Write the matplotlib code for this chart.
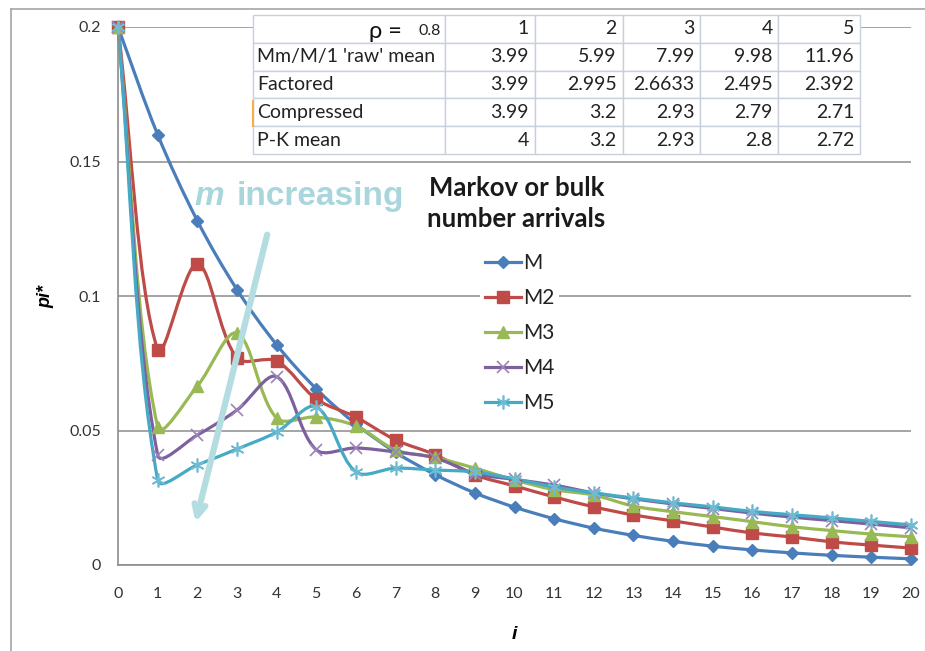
import numpy as np
import matplotlib
matplotlib.use('Agg')
import matplotlib.pyplot as plt
from matplotlib.path import Path
from matplotlib.patches import PathPatch
from matplotlib.lines import Line2D

plt.rcParams['font.family'] = ['Lato', 'DejaVu Sans']

# --- data
i_vals = list(range(21))
M = [0.2, 0.16, 0.128, 0.1024, 0.0819, 0.0655, 0.0524, 0.0419, 0.0336, 0.0268, 0.0215,
     0.0172, 0.0137, 0.011, 0.0088, 0.007, 0.0056, 0.0045, 0.0036, 0.0029, 0.0023]
M2 = [0.2, 0.080, 0.112, 0.077, 0.0758, 0.0617, 0.055, 0.0465, 0.041, 0.0335, 0.0294,
      0.0253, 0.0216, 0.0186, 0.0164, 0.0141, 0.0119, 0.0104, 0.0086, 0.0074, 0.0063]
M3 = [0.2, 0.0513, 0.0665, 0.0862, 0.0546, 0.055, 0.0517, 0.0428, 0.040, 0.036, 0.0316,
      0.028, 0.026, 0.0219, 0.0198, 0.018, 0.0161, 0.0142, 0.0128, 0.0115, 0.0105]
M4 = [0.2, 0.0409, 0.0483, 0.0576, 0.070, 0.0428, 0.0435, 0.042, 0.0398, 0.034, 0.0318,
      0.0297, 0.0268, 0.0246, 0.0227, 0.021, 0.0193, 0.0178, 0.0165, 0.0152, 0.0138]
M5 = [0.2, 0.0316, 0.0372, 0.0431, 0.0494, 0.0588, 0.0346, 0.036, 0.0353, 0.0346, 0.032,
      0.029, 0.0268, 0.0249, 0.0231, 0.0216, 0.0199, 0.0187, 0.0175, 0.0162, 0.0149]

series_names = ['M', 'M2', 'M3', 'M4', 'M5']
series_vals = [M, M2, M3, M4, M5]

# table contents
table_header = ['1', '2', '3', '4', '5']
table_rows = ["Mm/M/1 'raw' mean", 'Factored', 'Compressed', 'P-K mean']
raw_mean = ['3.99', '5.99', '7.99', '9.98', '11.96']
factored = ['3.99', '2.995', '2.6633', '2.495', '2.392']
compressed = ['3.99', '3.2', '2.93', '2.79', '2.71']
pk_mean = ['4', '3.2', '2.93', '2.8', '2.72']
rho = '0.8'

# --- styles
line_colors = ['#4A7EBB', '#BE4B48', '#98B954', '#7D60A0', '#46AAC5']
marker_colors = ['#4A7EBB', '#BE4B48', '#98B954', '#9B85B8', '#6FBCD2']
markers = ['D', 's', '^', 'x', (6, 2, 0)]
msizes = [6, 8, 8, 9, 10]


def smooth_path(ax, x, y):
    # Excel-like smoothed line: Bezier through the points, tangents weighted
    # by segment length in screen space (limits overshoot after long drops)
    to_px = ax.transData
    p = to_px.transform(np.column_stack([x, y]))
    n = len(p)
    d = np.hypot(*np.diff(p, axis=0).T)
    verts = [p[0]]
    codes = [Path.MOVETO]
    for k in range(n - 1):
        if k > 0:
            c1 = p[k] + (p[k + 1] - p[k - 1]) * d[k] / (d[k - 1] + d[k]) / 3
        else:
            c1 = p[k] + (p[k + 1] - p[k]) / 3
        if k + 2 < n:
            c2 = p[k + 1] - (p[k + 2] - p[k]) * d[k] / (d[k] + d[k + 1]) / 3
        else:
            c2 = p[k + 1] - (p[k + 1] - p[k]) / 3
        verts += [c1, c2, p[k + 1]]
        codes += [Path.CURVE4] * 3
    verts = to_px.inverted().transform(np.array(verts))
    return Path(verts, codes)


W, H = 925, 651
fig = plt.figure(figsize=(W / 100, H / 100), dpi=100)
ax = fig.add_axes([118 / W, 86 / H, 793 / W, 538 / H])

ax.set_xlim(0, 20)
ax.set_ylim(0, 0.2)
ax.set_xticks(range(0, 21))
ax.set_yticks([0, 0.05, 0.1, 0.15, 0.2])
ax.set_yticklabels(['0', '0.05', '0.1', '0.15', '0.2'])
ax.tick_params(length=0, labelsize=11.5, labelcolor='#333333')
ax.tick_params(axis='x', pad=16)
ax.tick_params(axis='y', pad=12)
for s in ['top', 'right']:
    ax.spines[s].set_visible(False)
for s in ['left', 'bottom']:
    ax.spines[s].set_color('#8C8C8C')
    ax.spines[s].set_linewidth(1.2)
ax.grid(axis='y', color='#8C8C8C', lw=1.1, zorder=0)
ax.set_axisbelow(True)

x = np.array(i_vals, dtype=float)
handles = []
for name, vals, lc, mc, mk, ms in zip(series_names, series_vals, line_colors,
                                      marker_colors, markers, msizes):
    y = np.array(vals)
    ax.add_patch(PathPatch(smooth_path(ax, x, y), facecolor='none', edgecolor=lc,
                           lw=2.3, zorder=2, clip_on=False))
    thin = name in ('M4', 'M5')
    ax.plot(x, y, linestyle='none', marker=mk, markersize=ms,
            color=mc, mec=mc, mew=1.2 if thin else 1, zorder=3, clip_on=False)
    handles.append(Line2D([], [], color=lc, lw=2.3, marker=mk, markersize=ms,
                          mfc=mc, mec=mc, mew=1.2 if thin else 1, label=name))

ax.set_ylabel('pi*', fontsize=13, fontweight='bold', style='italic',
              family='Liberation Sans', labelpad=11)
ax.set_xlabel('i', fontsize=14, fontweight='bold', style='italic',
              family='Liberation Sans', labelpad=18)

# annotations
ax.text(1.94, 0.137, 'm', fontsize=24, fontweight='bold', style='italic',
        color='#A9D6DC', family='Liberation Sans', va='center', ha='left')
ax.text(2.98, 0.137, 'increasing', fontsize=24, fontweight='bold',
        color='#A9D6DC', family='Liberation Sans', va='center', ha='left')
ax.annotate('', xy=(1.94, 0.0149), xytext=(3.78, 0.1238),
            arrowprops=dict(arrowstyle='->,head_length=0.8,head_width=0.4',
                            color='#B4DDE1', lw=4.5), zorder=4)
ax.text(10.05, 0.1345, 'Markov or bulk\nnumber arrivals', fontsize=18.5,
        fontweight='bold', color='#1A1A1A', ha='center', va='center',
        linespacing=1.35)

leg = ax.legend(handles=handles, loc='upper left',
                bbox_to_anchor=(480 / W, 1 - 248 / H), bbox_transform=fig.transFigure,
                frameon=True, fontsize=15, handlelength=1.7, handletextpad=0.1,
                labelspacing=0.72, borderpad=0.25, borderaxespad=0, fancybox=False)
leg.get_frame().set_facecolor('white')
leg.get_frame().set_edgecolor('none')
leg.get_frame().set_alpha(1)
leg.set_zorder(5)
for t in leg.get_texts():
    t.set_color('#222222')

# table
cell_text = [[''] + table_header,
             [table_rows[0]] + raw_mean,
             [table_rows[1]] + factored,
             [table_rows[2]] + compressed,
             [table_rows[3]] + pk_mean]
col_w = [192, 90, 88, 77, 78, 82]
tab = ax.table(cellText=cell_text, colWidths=[c / sum(col_w) for c in col_w],
               bbox=[(253 - 118) / 793, (565 - 154) / 538, 607 / 793, 139 / 538],
               cellLoc='right', zorder=4)
tab.auto_set_font_size(False)
tab.set_fontsize(14)
for (r, c), cell in tab.get_celld().items():
    cell.set_edgecolor('#C8D0DE')
    cell.set_facecolor('white')
    cell.set_linewidth(1)
    cell.get_text().set_color('#222222')
    if c == 0:
        cell.get_text().set_ha('left')
        cell.PAD = 0.02
    else:
        cell.PAD = 0.07

fig.text(402 / W, 1 - 32 / H, '\u03c1 =', fontsize=17, ha='right', va='center',
         color='#111111', zorder=6)
fig.text(441 / W, 1 - 31 / H, rho, fontsize=11.5, ha='right', va='center',
         color='#222222', zorder=6)

# outer frame of the screenshot
fig.add_artist(Line2D([11 / W, 11 / W], [0, 1 - 9 / H], color='#A6A6A6', lw=1.2))
fig.add_artist(Line2D([11 / W, 1], [1 - 9 / H, 1 - 9 / H], color='#A6A6A6', lw=1.2))
fig.add_artist(Line2D([252.5 / W, 252.5 / W], [1 - 126 / H, 1 - 101 / H],
                      color='#F5B041', lw=1.5))

fig.savefig('out.png', dpi=100)
